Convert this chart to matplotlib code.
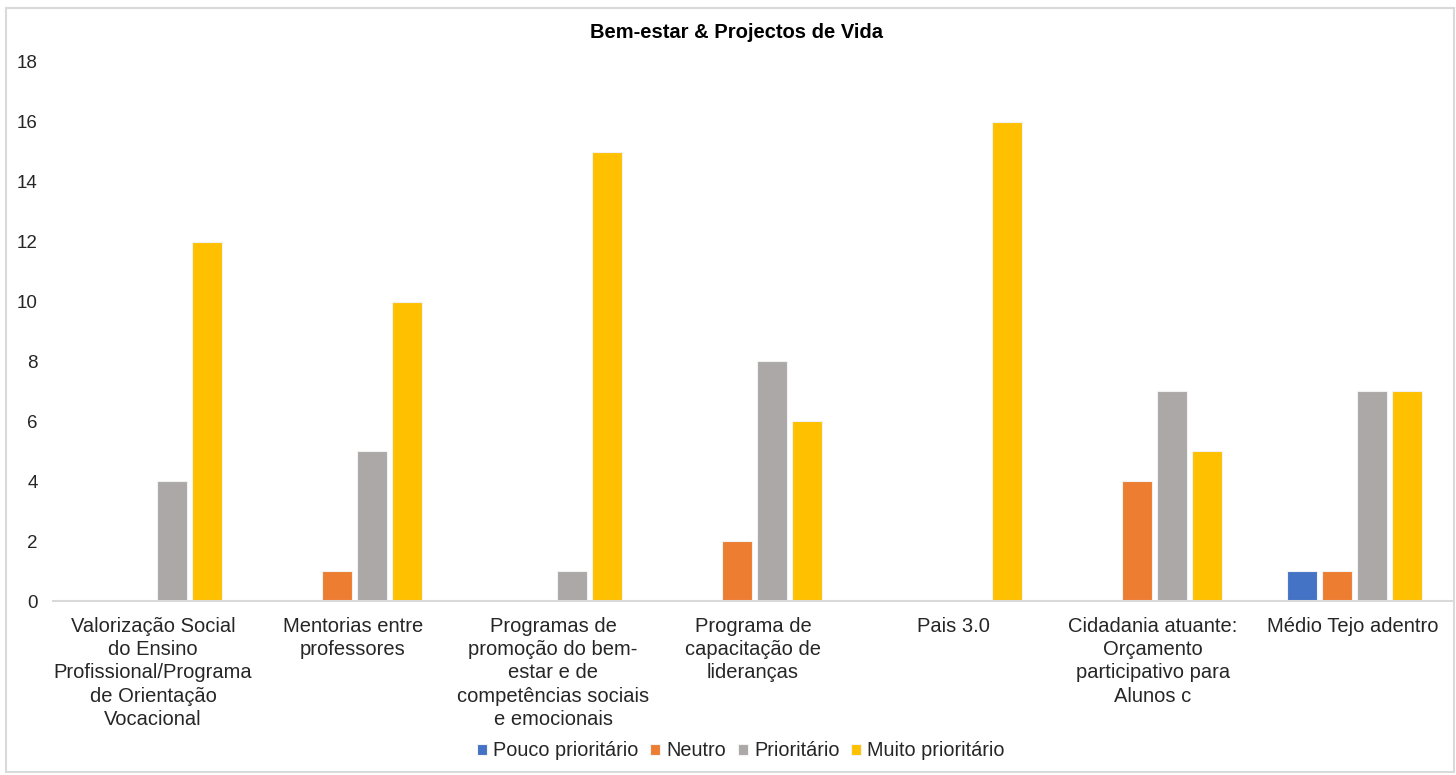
import matplotlib.pyplot as plt
import numpy as np
from matplotlib.patches import Rectangle

plt.rcParams['font.family'] = ['Liberation Sans', 'DejaVu Sans']

categorias = [
    "Valorização Social\ndo Ensino\nProfissional/Programa\nde Orientação\nVocacional",
    "Mentorias entre\nprofessores",
    "Programas de\npromoção do bem-\nestar e de\ncompetências sociais\ne emocionais",
    "Programa de\ncapacitação de\nlideranças",
    "Pais 3.0",
    "Cidadania atuante:\nOrçamento\nparticipativo para\nAlunos c",
    "Médio Tejo adentro",
]
pouco = [0, 0, 0, 0, 0, 0, 1]
neutro = [0, 1, 0, 2, 0, 4, 1]
prioritario = [4, 5, 1, 8, 0, 7, 7]
muito = [12, 10, 15, 6, 16, 5, 7]

series = [("Pouco prioritário", pouco, "#4472C4"),
          ("Neutro", neutro, "#ED7D31"),
          ("Prioritário", prioritario, "#ABA8A7"),
          ("Muito prioritário", muito, "#FFC000")]

fig = plt.figure(figsize=(14.56, 7.75), dpi=100)
ax = fig.add_axes([53 / 1456, 1 - 601 / 775, 1400 / 1456, 539 / 775])

x = np.arange(len(categorias))
passo = 0.175   # distance between bars inside a group
largura = 0.147
for i, (nome, vals, cor) in enumerate(series):
    ax.bar(x + 0.008 + (i - 1.5) * passo, vals, largura, color=cor,
           edgecolor="#F2F2F2", linewidth=0.8, label=nome)

ax.set_xlim(-0.5, len(categorias) - 0.5)
ax.set_ylim(0, 18)
ax.set_yticks(range(0, 19, 2))
ax.set_xticks(x)
ax.set_xticklabels(categorias, fontsize=14.5, linespacing=1.28)
ax.tick_params(axis="y", length=0, pad=11, labelsize=13.5, labelcolor="#262626")
ax.tick_params(axis="x", length=0, pad=11.5, labelcolor="#262626")
for s in ["top", "right", "left"]:
    ax.spines[s].set_visible(False)
ax.spines["bottom"].set_color("#D9D9D9")
ax.spines["bottom"].set_linewidth(1.5)

fig.text(737 / 1456, 1 - 32 / 775, "Bem-estar & Projectos de Vida", ha="center",
         va="center", fontsize=14.5, fontweight="bold", color="#000000")

fig.legend(loc="center", bbox_to_anchor=(741 / 1456, 1 - 751 / 775), ncol=4,
           frameon=False, fontsize=14.3, handlelength=0.5, handleheight=0.5,
           handletextpad=0.3, columnspacing=0.6, labelcolor="#262626")

fig.patches.append(Rectangle((6 / 1456, 3 / 775), 1448 / 1456, 764 / 775,
                             transform=fig.transFigure, fill=False,
                             edgecolor="#D9D9D9", linewidth=1.5))

fig.savefig("out.png", dpi=100)
